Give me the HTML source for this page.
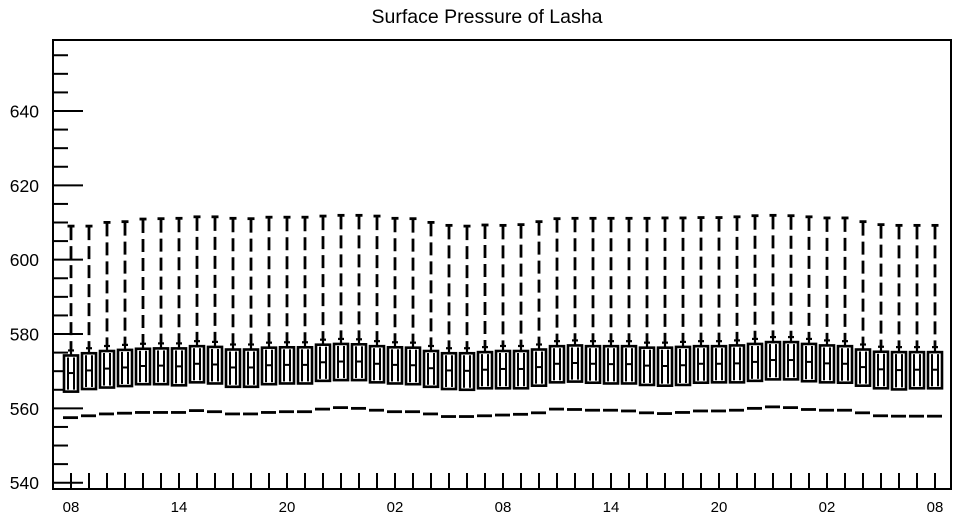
<!DOCTYPE html>
<html><head><meta charset="utf-8"><style>
html,body{margin:0;padding:0;background:#fff;}
svg{display:block;font-family:"Liberation Sans",Arial,sans-serif;}
</style></head><body>
<svg id="chart" width="958" height="518" viewBox="0 0 958 518">
<text x="487" y="23" text-anchor="middle" font-size="19.5">Surface Pressure of Lasha</text>
<g id="yaxis"></g>
<g id="xaxis"></g>
<g id="boxes"></g>
<rect x="53" y="40" width="898" height="449" fill="none" stroke="#000" stroke-width="2"/>
</svg>
<script>
const whiskerTop = [609.3,609.3,610.3,610.5,611.2,611.3,611.4,611.8,611.8,611.4,611.3,611.7,611.7,611.7,612.0,612.2,612.2,612.0,611.4,611.3,610.3,609.5,609.3,609.6,609.5,
609.7,610.5,611.3,611.4,611.4,611.4,611.4,611.4,611.5,611.5,611.6,611.6,611.8,612.1,612.2,612.1,611.8,611.5,611.5,610.5,609.7,609.5,609.5,609.5];
const q3 = [574.5,575.1,575.7,576.0,576.3,576.4,576.4,577.0,576.8,576.1,576.1,576.6,576.7,576.7,577.4,577.6,577.5,577.0,576.7,576.6,575.7,575.1,575.1,575.4,575.7,
575.7,576.1,577.0,577.2,577.0,577.0,577.0,576.6,576.6,576.8,577.0,577.0,577.2,577.6,578.1,578.1,577.6,577.2,577.0,576.1,575.5,575.4,575.4,575.4];
const q1 = [564.5,565.2,565.6,566.0,566.5,566.5,566.2,567.0,566.7,565.8,565.8,566.5,566.7,566.7,567.4,567.6,567.6,567.0,566.7,566.5,565.8,565.2,565.0,565.4,565.4,
565.4,566.1,567.0,567.2,566.9,566.7,566.7,566.3,566.1,566.3,566.9,567.0,567.0,567.4,567.8,567.8,567.3,567.0,566.9,566.1,565.4,565.1,565.4,565.4];
const median = [569.5,570.2,570.7,571.0,571.4,571.5,571.3,572.0,571.8,571.0,571.0,571.6,571.7,571.7,572.4,572.6,572.6,572.0,571.7,571.6,570.8,570.2,570.1,570.4,570.6,
570.6,571.1,572.0,572.2,572.0,571.9,571.9,571.5,571.4,571.6,572.0,572.0,572.1,572.5,573.0,573.0,572.5,572.1,572.0,571.1,570.5,570.3,570.4,570.4];
const minVal = [557.5,558.0,558.5,558.7,558.9,558.9,558.9,559.4,559.1,558.5,558.5,558.9,559.1,559.1,559.8,560.2,560.0,559.5,559.1,559.1,558.5,557.8,557.8,558.0,558.2,
558.4,558.8,559.8,559.7,559.5,559.5,559.3,558.8,558.6,558.9,559.3,559.3,559.5,560.0,560.4,560.2,559.7,559.5,559.5,558.8,558.0,557.9,557.9,557.9];
const xTickLabels = ["08","14","20","02","08","14","20","02","08"];
const yTickLabels = [540,560,580,600,620,640];

const NS="http://www.w3.org/2000/svg";
function Y(v){return 482.7-(v-540)*3.717;}
function X(i){return 71+18*i;}
function mk(tag,attrs,parent){const e=document.createElementNS(NS,tag);for(const k in attrs)e.setAttribute(k,attrs[k]);parent.appendChild(e);return e;}
const ya=document.getElementById('yaxis'),xa=document.getElementById('xaxis'),bx=document.getElementById('boxes');
for(let v=540;v<=655;v+=5){
  const major=(v%20===0);
  const t=mk('line',{x1:53,x2:major?83:68,y1:Y(v),y2:Y(v),stroke:'#000','stroke-width':2},ya);
  
  
}
yTickLabels.forEach(v=>{
  const t=mk('text',{x:39,y:Y(v)+6.5,'text-anchor':'end','font-size':17.5},ya);
  t.textContent=v;
  
  
});
for(let i=0;i<q3.length;i++){
  const t=mk('line',{x1:X(i),x2:X(i),y1:473,y2:489,stroke:'#000','stroke-width':2},xa);
  
  
}
xTickLabels.forEach((s,k)=>{
  const t=mk('text',{x:X(k*6),y:512,'text-anchor':'middle','font-size':15},xa);
  t.textContent=s;
  
  
});
for(let i=0;i<q3.length;i++){
  const x=X(i);
  const g=mk('g',{},bx);
  
  
  mk('line',{x1:x,x2:x,y1:Y(whiskerTop[i])+2,y2:Y(q3[i])-3,stroke:'#000','stroke-width':2.8,'stroke-dasharray':'13 6'},g);
  mk('line',{x1:x-3.5,x2:x+3.5,y1:Y(whiskerTop[i])+1,y2:Y(whiskerTop[i])+1,stroke:'#000','stroke-width':2.8},g);
  mk('line',{x1:x,x2:x,y1:Y(q3[i])-5,y2:Y(q3[i]),stroke:'#000','stroke-width':2.2},g);
  mk('line',{x1:x-3,x2:x+3,y1:Y(q3[i])-4,y2:Y(q3[i])-4,stroke:'#000','stroke-width':2.2},g);
  mk('rect',{x:x-7,y:Y(q3[i])+1,width:14,height:Y(q1[i])-Y(q3[i])-1,fill:'#fff',stroke:'#000','stroke-width':2.6},g);
  mk('line',{x1:x-3,x2:x-3,y1:Y(q3[i])+3,y2:Y(q1[i])-2,stroke:'#000','stroke-width':2},g);
  mk('line',{x1:x+3,x2:x+3,y1:Y(q3[i])+3,y2:Y(q1[i])-2,stroke:'#000','stroke-width':2},g);
  mk('line',{x1:x-3,x2:x+3,y1:Y(median[i]),y2:Y(median[i]),stroke:'#000','stroke-width':2},g);
  const m=mk('line',{x1:x-8,x2:x+7,y1:Y(minVal[i]),y2:Y(minVal[i]),stroke:'#000','stroke-width':2.8},bx);
  
  
}
</script>
</body></html>
